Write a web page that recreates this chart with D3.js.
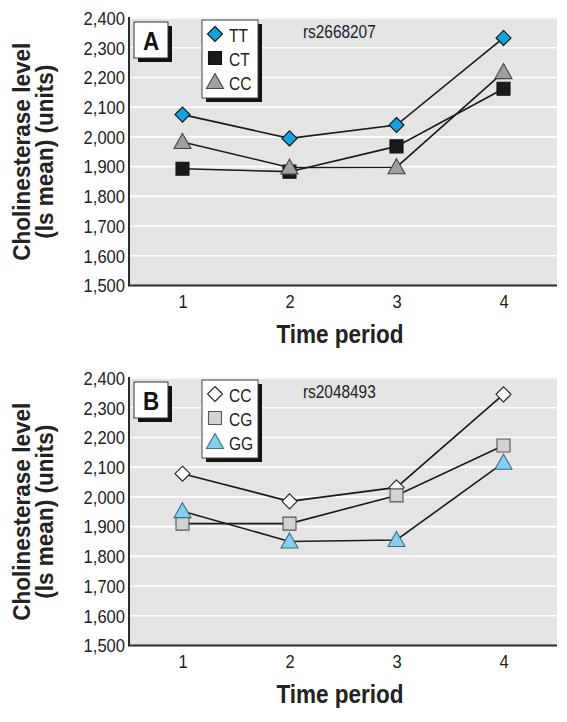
<!DOCTYPE html>
<html>
<head>
<meta charset="utf-8">
<script src="https://cdn.jsdelivr.net/npm/d3@7"></script>
<style>
  html, body { margin: 0; padding: 0; background: #fff; }
  svg { display: block; }
  text { font-family: "Liberation Sans", Arial, sans-serif; }
</style>
</head>
<body>
<svg id="chart" width="567" height="722"></svg>
<script>
// ---- Data ----
const periods = [1, 2, 3, 4];
const yTicks = [1500, 1600, 1700, 1800, 1900, 2000, 2100, 2200, 2300, 2400];

// Panel A: rs2668207
const panelALabel = "A";
const panelASnp = "rs2668207";
const panelASeries = ["TT", "CT", "CC"];
const panelA_TT = [2075, 1995, 2040, 2333];
const panelA_CT = [1893, 1883, 1968, 2162];
const panelA_CC = [1983, 1897, 1898, 2218];

// Panel B: rs2048493
const panelBLabel = "B";
const panelBSnp = "rs2048493";
const panelBSeries = ["CC", "CG", "GG"];
const panelB_CC = [2078, 1985, 2032, 2345];
const panelB_CG = [1910, 1910, 2005, 2173];
const panelB_GG = [1952, 1850, 1855, 2115];

const yTitle1 = "Cholinesterase level";
const yTitle2 = "(ls mean) (units)";
const xTitle = "Time period";

// ---- Styles ----
const panelAStyles = [
  { shape: "diamond", fill: "#13a3e0", stroke: "#111" },
  { shape: "square", fill: "#1a1a1a", stroke: "#111" },
  { shape: "triangle", fill: "#a0a0a0", stroke: "#444" }
];
const panelBStyles = [
  { shape: "diamond", fill: "#ffffff", stroke: "#222" },
  { shape: "square", fill: "#d2d2d2", stroke: "#555" },
  { shape: "triangle", fill: "#86d0ef", stroke: "#3a6f86" }
];

const svg = d3.select("#chart");

function markerPath(shape, cx, cy) {
  if (shape === "diamond") {
    const r = 7.5;
    return `M${cx},${cy - r}L${cx + r},${cy}L${cx},${cy + r}L${cx - r},${cy}Z`;
  }
  if (shape === "square") {
    const h = 6.5;
    return `M${cx - h},${cy - h}H${cx + h}V${cy + h}H${cx - h}Z`;
  }
  const h = 7.5;
  return `M${cx},${cy - h - 1}L${cx + h + 1},${cy + h - 1}L${cx - h - 1},${cy + h - 1}Z`;
}

// condensed text helper
function ctext(parent, x, y, str, size, sx, opts = {}) {
  const g = parent.append("g").attr("transform", `translate(${x},${y})${opts.rotate ? " rotate(" + opts.rotate + ")" : ""} scale(${sx},1)`);
  const t = g.append("text").attr("font-size", size).attr("fill", "#222")
    .attr("text-anchor", opts.anchor || "start").attr("dy", "0.35em")
    .attr("font-weight", opts.bold ? "bold" : "normal").text(str);
  return t;
}

function drawPanel(offsetY, label, snp, seriesNames, seriesValues, styles) {
  const left = 129, right = 557;
  const top = offsetY, bottom = offsetY + 267.5;
  const g = svg.append("g");

  const x = d3.scalePoint().domain(periods).range([left, right]).padding(0.5);
  const y = d3.scaleLinear().domain([1500, 2400]).range([bottom, top]);

  g.append("rect")
    .attr("x", left).attr("y", top - 1)
    .attr("width", right - left).attr("height", bottom - top + 1)
    .attr("fill", "#e4e4e4");

  g.selectAll(".grid").data(yTicks.filter(d => d > 1500)).join("line")
    .attr("x1", left).attr("x2", right)
    .attr("y1", d => y(d)).attr("y2", d => y(d))
    .attr("stroke", "#ffffff").attr("stroke-width", 1.6);

  const sxTick = 0.92;
  const yAxis = d3.axisLeft(y).tickValues(yTicks).tickSize(0).tickPadding(4)
    .tickFormat(d3.format(","));
  const yg = g.append("g").attr("transform", `translate(${left},0)`).call(yAxis);
  yg.select(".domain").remove();
  yg.selectAll("text").attr("font-size", 18).attr("fill", "#222").attr("dy", "0.35em")
    .attr("font-family", "Liberation Sans, Arial, sans-serif")
    .attr("x", -4 / sxTick).attr("transform", `scale(${sxTick},1)`);

  const xAxis = d3.axisBottom(x).tickSize(0).tickPadding(10);
  const xg = g.append("g").attr("transform", `translate(0,${bottom})`).call(xAxis);
  xg.select(".domain").remove();
  xg.selectAll("text").attr("font-size", 18).attr("fill", "#222")
    .attr("font-family", "Liberation Sans, Arial, sans-serif")
    .attr("transform", `scale(${sxTick},1)`);

  g.append("path")
    .attr("d", `M${left},${top - 1}V${bottom}H${right}`)
    .attr("fill", "none").attr("stroke", "#2a2a2a").attr("stroke-width", 2);

  const line = d3.line().x((d, i) => x(periods[i])).y(d => y(d));
  seriesValues.forEach(vals => {
    g.append("path").attr("d", line(vals))
      .attr("fill", "none").attr("stroke", "#1a1a1a").attr("stroke-width", 1.6);
  });
  seriesValues.forEach((vals, si) => {
    const st = styles[si];
    g.selectAll(null).data(vals).join("path")
      .attr("d", (d, i) => markerPath(st.shape, x(periods[i]), y(d)))
      .attr("fill", st.fill).attr("stroke", st.stroke).attr("stroke-width", 1.1);
  });

  // panel label box with shadow
  const bx = 134, by = offsetY + 4, bw = 34, bh = 36;
  g.append("rect").attr("x", bx + 4).attr("y", by + 4).attr("width", bw).attr("height", bh).attr("fill", "#111");
  g.append("rect").attr("x", bx).attr("y", by).attr("width", bw).attr("height", bh)
    .attr("fill", "#fff").attr("stroke", "#333").attr("stroke-width", 1);
  ctext(g, bx + bw / 2, by + bh / 2 + 1, label, 25, 0.9, { anchor: "middle", bold: true }).attr("fill", "#111");

  // legend box
  const lx = 202, ly = offsetY + 2, lw = 56, lh = 78;
  g.append("rect").attr("x", lx + 4).attr("y", ly + 4).attr("width", lw).attr("height", lh).attr("fill", "#111");
  g.append("rect").attr("x", lx).attr("y", ly).attr("width", lw).attr("height", lh)
    .attr("fill", "#fff").attr("stroke", "#444").attr("stroke-width", 1);
  seriesNames.forEach((name, i) => {
    const cy = ly + 14 + i * 24;
    const st = styles[i];
    g.append("path").attr("d", markerPath(st.shape, lx + 13, cy))
      .attr("fill", st.fill).attr("stroke", st.stroke).attr("stroke-width", 1.1);
    ctext(g, lx + 27, cy + 1, name, 19, 0.82);
  });

  ctext(g, 303, offsetY + 14, snp, 17.5, 0.88);

  // y title
  const cy = (top + bottom) / 2;
  ctext(g, 22, cy, yTitle1, 24, 0.94, { anchor: "middle", bold: true, rotate: -90 });
  ctext(g, 45, cy, yTitle2, 24, 0.94, { anchor: "middle", bold: true, rotate: -90 });

  // x title
  ctext(g, 340, bottom + 49, xTitle, 25, 0.9, { anchor: "middle", bold: true });
}

drawPanel(18, panelALabel, panelASnp, panelASeries, [panelA_TT, panelA_CT, panelA_CC], panelAStyles);
drawPanel(378, panelBLabel, panelBSnp, panelBSeries, [panelB_CC, panelB_CG, panelB_GG], panelBStyles);
</script>
</body>
</html>
